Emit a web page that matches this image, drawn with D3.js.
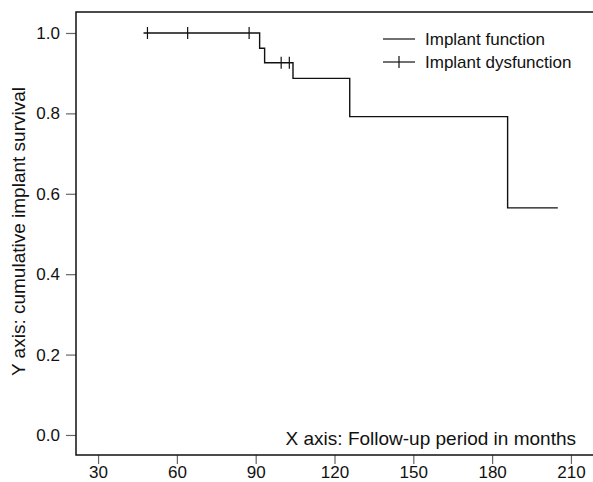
<!DOCTYPE html>
<html>
<head>
<meta charset="utf-8">
<script src="https://cdn.jsdelivr.net/npm/d3@7"></script>
<style>
  body { margin: 0; background: #fff; }
  svg { display: block; font-family: "Liberation Sans", Arial, Helvetica, sans-serif; }
</style>
</head>
<body>
<div class="myChart"></div>
<script>
// Data
var stepMonths = [47.3, 91.5, 93.4, 104.2, 125.8, 185.9, 205.0];
var stepSurvival = [1.0, 0.962, 0.926, 0.887, 0.792, 0.565, 0.565];
var censorMonths = [48.8, 64.1, 87.5, 99.7, 102.8];
var censorSurvival = [1.0, 1.0, 1.0, 0.926, 0.926];
var xTicks = [30, 60, 90, 120, 150, 180, 210];
var yTicks = [0, 0.2, 0.4, 0.6, 0.8, 1.0];
var legendLabels = ["Implant function", "Implant dysfunction"];

// Canvas
var width = 593;
var height = 482;
var margin = { top: 12, right: 0, bottom: 27, left: 76 };
var innerBottom = height - margin.bottom;

// Scales
var xScale = d3.scaleLinear()
    .domain([21.6, 218.4])
    .range([margin.left, width]);
var yScale = d3.scaleLinear()
    .domain([-0.0498, 1.0522])
    .range([innerBottom, margin.top]);

var svg = d3.select(".myChart").append("svg")
    .attr("width", width)
    .attr("height", height);

// Axes
var yAxis = d3.axisLeft(yScale)
    .tickValues(yTicks)
    .tickFormat(d3.format(".1f"))
    .tickSize(10)
    .tickPadding(6);
var xAxis = d3.axisBottom(xScale)
    .tickValues(xTicks)
    .tickFormat(d3.format("d"))
    .tickSize(9)
    .tickPadding(2);

var gy = svg.append("g")
    .attr("transform", "translate(" + margin.left + ",0)")
    .call(yAxis);
var gx = svg.append("g")
    .attr("transform", "translate(0," + innerBottom + ")")
    .call(xAxis);

[gx, gy].forEach(function(g) {
    g.select(".domain").remove();
    g.selectAll(".tick line").attr("stroke", "#666").attr("stroke-width", 1.2);
    g.selectAll(".tick text")
        .attr("fill", "#111")
        .style("font-size", "17px")
        .style("font-family", "inherit");
});

// Plot frame (right side runs off the canvas)
svg.append("rect")
    .attr("x", margin.left)
    .attr("y", margin.top)
    .attr("width", width - margin.left + 5)
    .attr("height", innerBottom - margin.top)
    .attr("fill", "none")
    .attr("stroke", "#111")
    .attr("stroke-width", 1.5);

// Survival step curve
var points = stepMonths.map(function(m, i) { return [m, stepSurvival[i]]; });
var line = d3.line()
    .x(function(d) { return xScale(d[0]); })
    .y(function(d) { return yScale(d[1]); })
    .curve(d3.curveStepAfter);

svg.append("path")
    .datum(points)
    .attr("d", line)
    .attr("fill", "none")
    .attr("stroke", "#111")
    .attr("stroke-width", 1.4);

// Censor marks
svg.selectAll("line.censor")
    .data(censorMonths)
    .enter()
    .append("line")
    .attr("class", "censor")
    .attr("x1", function(d) { return xScale(d); })
    .attr("x2", function(d) { return xScale(d); })
    .attr("y1", function(d, i) { return yScale(censorSurvival[i]) - 6; })
    .attr("y2", function(d, i) { return yScale(censorSurvival[i]) + 6; })
    .attr("stroke", "#111")
    .attr("stroke-width", 1.2);

// Axis titles
svg.append("text")
    .attr("transform", "translate(25,231.5) rotate(-90)")
    .attr("text-anchor", "middle")
    .attr("fill", "#111")
    .style("font-size", "19px")
    .text("Y axis: cumulative implant survival");

svg.append("text")
    .attr("x", 576)
    .attr("y", 445)
    .attr("text-anchor", "end")
    .attr("fill", "#111")
    .style("font-size", "19px")
    .text("X axis: Follow-up period in months");

// Legend
var legend = svg.append("g").attr("transform", "translate(383,39)");
var rows = legend.selectAll("g")
    .data(legendLabels)
    .enter()
    .append("g")
    .attr("transform", function(d, i) { return "translate(0," + i * 23 + ")"; });

rows.append("line")
    .attr("x1", 0).attr("x2", 32)
    .attr("stroke", "#111")
    .attr("stroke-width", 1.2);
rows.filter(function(d, i) { return i === 1; })
    .append("line")
    .attr("x1", 16).attr("x2", 16)
    .attr("y1", -6).attr("y2", 6)
    .attr("stroke", "#111")
    .attr("stroke-width", 1.2);
rows.append("text")
    .attr("x", 42)
    .attr("y", 6)
    .attr("fill", "#111")
    .style("font-size", "17px")
    .text(function(d) { return d; });
</script>
</body>
</html>
